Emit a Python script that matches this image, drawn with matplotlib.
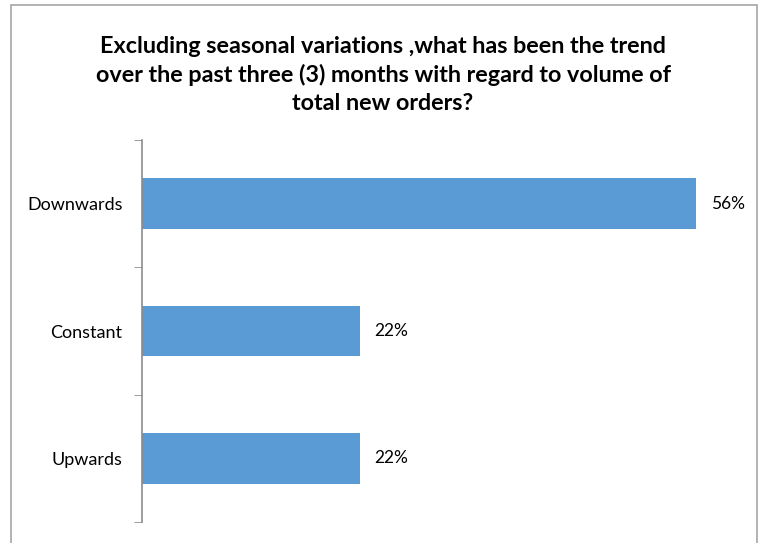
import matplotlib.pyplot as plt
from matplotlib.patches import Rectangle

# survey answers, bottom to top
categories = ['Upwards', 'Constant', 'Downwards']
shares = [22, 22, 56]
title = ('Excluding seasonal variations ,what has been the trend\n'
         'over the past three (3) months with regard to volume of\n'
         'total new orders?')

plt.rcParams['font.family'] = ['Lato', 'DejaVu Sans']

fig = plt.figure(figsize=(7.61, 5.43), dpi=100)
# chart frame (cut off at the bottom)
fig.patches.append(Rectangle((11 / 761, -0.05), 746 / 761, 1.05 - 5 / 543,
                             transform=fig.transFigure, fill=False,
                             edgecolor='#a6a6a6', linewidth=1.2))

ax = fig.add_axes([142 / 761, (543 - 522) / 543, 594 / 761, 382 / 543])
pos = range(len(categories))
ax.barh(pos, shares, height=0.4, color='#5b9bd5')
for p, v in zip(pos, shares):
    ax.text(v + 1.5, p, '{}%'.format(v), va='center', ha='left', fontsize=12.5)

ax.set_xlim(0, 60)
ax.set_ylim(-0.5, 2.5)
ax.set_yticks(list(pos))
ax.set_yticklabels(categories, fontsize=13)
ax.tick_params(axis='y', length=0, pad=14)
# tick marks sit between categories
ax.set_yticks([-0.5, 0.5, 1.5, 2.5], minor=True)
ax.tick_params(axis='y', which='minor', length=6, color='#8c8c8c', direction='out')
ax.set_xticks([])
for s in ['top', 'right', 'bottom']:
    ax.spines[s].set_visible(False)
ax.spines['left'].set_color('#8c8c8c')
ax.spines['left'].set_linewidth(1.2)

fig.text(383 / 761, 1 - 75 / 543, title, ha='center', va='center',
         fontsize=16.8, fontweight='bold', linespacing=1.4)

fig.savefig('out.png', dpi=100)
